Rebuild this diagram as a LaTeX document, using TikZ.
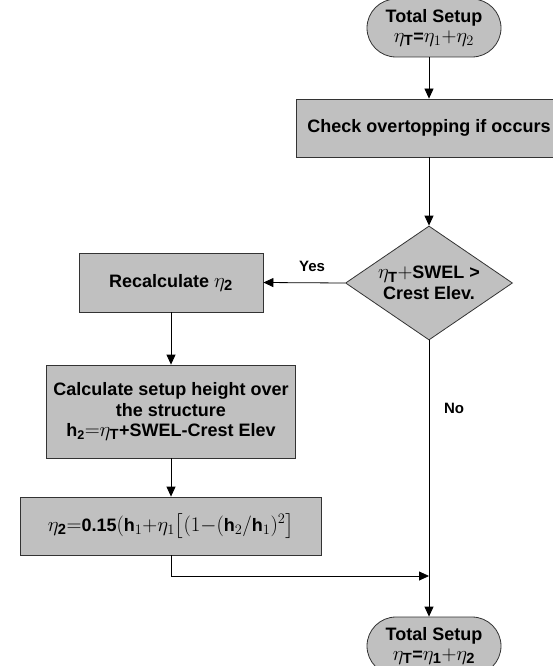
\documentclass[tikz,border=0pt]{standalone}
\usepackage{amsmath}
\usepackage{fontspec}
\setmainfont{Liberation Sans}
\usetikzlibrary{arrows.meta}
\usetikzlibrary{shapes.geometric}
\usetikzlibrary{shapes.misc}
\definecolor{fBox}{HTML}{C0C0C0}
\definecolor{fEdge}{HTML}{333333}
% math pieces a little larger than the text round them
\newcommand{\eqpart}[1]{{\fontsize{21}{22}\selectfont$#1$}}

\tikzset{
  proc/.style={draw=fEdge, fill=fBox, line width=0.8pt, align=center, inner sep=0pt,
    font=\bfseries\fontsize{18}{20.5}\selectfont},
  term/.style={proc, rounded rectangle, minimum width=134pt, minimum height=58pt},
  decide/.style={proc, diamond, aspect=1.46, inner sep=-4pt, minimum width=167pt, minimum height=114pt},
  flow/.style={-{Triangle[length=10pt,width=9pt]}, line width=0.8pt},
  tag/.style={font=\bfseries\fontsize{15}{17}\selectfont}
}

\begin{document}
\begin{tikzpicture}[x=1pt, y=-1pt]
    \useasboundingbox (0,0) rectangle (552,666);

    % right column
    \node[term] (start) at (434,28) {Total Setup\\\eqpart{\eta_{\textbf{T}}}=\eqpart{\eta_1{+}\eta_2}};
    \node[proc, minimum width=266pt, minimum height=58pt] (check) at (429,128) {Check overtopping if occurs};
    \node[decide] (crest) at (429,283) {\eqpart{\eta_{\textbf{T}}{+}}SWEL >\\Crest Elev.};
    \node[term] (final) at (434,646) {Total Setup\\\eqpart{\eta_{\textbf{T}}}=\eqpart{\eta_{\textbf{1}}{+}\eta_{\textbf{2}}}};

    % left column
    \node[proc, minimum width=184pt, minimum height=59pt] (recalc) at (171,282.5) {Recalculate \eqpart{\eta_{\textbf{2}}}};
    \node[proc, minimum width=249pt, minimum height=93pt] (setup) at (171,411.5) {Calculate setup height over\\the structure\\h$_{\textbf{2}}$\eqpart{{=}\eta_{\textbf{T}}}+SWEL-Crest Elev};
    \node[proc, minimum width=301pt, minimum height=58pt] (relief) at (171,526) {\eqpart{\eta_{\textbf{2}}{=}}0.15\eqpart{(}h\eqpart{_1{+}\eta_1\bigl[(1{-}(}h\eqpart{_2/}h\eqpart{_1)^2\bigr]}};

    \coordinate (merge) at (429,576);

    \node[tag] (yes) at (312,266) {Yes};
    \node[tag] (no) at (454,408) {No};

    % connectors
    \draw[flow] (start.south -| check.north) -- (check.north);
    \draw[flow] (check.south) -- (crest.north);
    \draw[flow] (crest.west) -- (recalc.east);
    \draw[flow] (recalc.south) -- (setup.north);
    \draw[flow] (setup.south) -- (relief.north);
    \draw[flow] (relief.south) |- (merge);
    \draw[flow] (crest.south) -- (crest.south |- final.north);
  \end{tikzpicture}
\end{document}
